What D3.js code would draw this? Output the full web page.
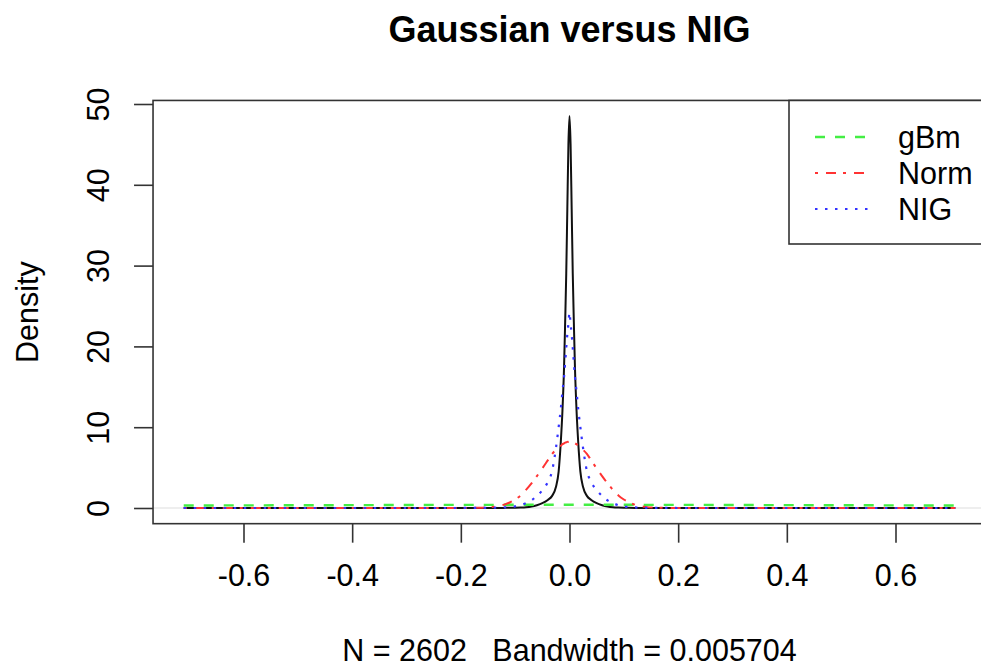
<!DOCTYPE html>
<html lang="en">
  <head>
    <meta charset="utf-8">
    <title>Gaussian versus NIG</title>
    <style>
    body { margin: 0; background: #fff; }
    text { font-family: "Liberation Sans", Arial, sans-serif; fill: #000; white-space: pre; }
    .title { font-size: 36px; font-weight: bold; }
    .lab { font-size: 30.5px; }
    .tick text { font-size: 30.5px; }
    </style>
  </head>
  <body>
    <svg width="981" height="668" id="svg"></svg>

    <script src="https://d3js.org/d3.v7.min.js"></script>
    <script>

    // density grid (x) and the four curves
    var gridX = [-0.71, -0.5, -0.3, -0.2, -0.16, -0.14, -0.12, -0.11, -0.10, -0.09, -0.08, -0.07, -0.06,
                 -0.05, -0.04, -0.032, -0.025, -0.02, -0.016, -0.013, -0.01, -0.008, -0.006, -0.004, -0.002,
                 0,
                 0.002, 0.004, 0.006, 0.008, 0.01, 0.013, 0.016, 0.02, 0.025, 0.032, 0.04, 0.05,
                 0.06, 0.07, 0.08, 0.09, 0.10, 0.11, 0.12, 0.14, 0.16, 0.2, 0.3, 0.5, 0.71];

    var kdeY  = [0, 0.001, 0.002, 0.005, 0.008, 0.01, 0.015, 0.02, 0.03, 0.05, 0.09, 0.18, 0.35,
                 0.6, 1.0, 1.5, 2.6, 4.5, 8.2, 12, 17.5, 23, 29, 37, 45,
                 48.5,
                 45, 37, 29, 23, 17.5, 12, 8.2, 4.5, 2.6, 1.5, 1.0, 0.6,
                 0.35, 0.18, 0.09, 0.05, 0.03, 0.02, 0.015, 0.01, 0.008, 0.005, 0.002, 0.001, 0];

    var nigY  = [0, 0, 0.001, 0.003, 0.01, 0.03, 0.07, 0.12, 0.2, 0.35, 0.6, 0.95, 1.5,
                 2.2, 3.2, 4.6, 7.4, 10, 12.3, 14.4, 16.3, 18, 19.8, 21.5, 22.8,
                 24.2,
                 22.8, 21.5, 19.8, 18, 16.3, 14.4, 12.3, 10, 7.4, 4.6, 3.2, 2.2,
                 1.5, 0.95, 0.6, 0.35, 0.2, 0.12, 0.07, 0.03, 0.01, 0.003, 0.001, 0, 0];

    var normY = [0, 0, 0, 0.003, 0.04, 0.14, 0.42, 0.68, 1.05, 1.55, 2.25, 3.05, 3.95,
                 4.9, 5.9, 6.7, 7.2, 7.5, 7.7, 7.9, 8.0, 8.1, 8.13, 8.18, 8.2,
                 8.25,
                 8.2, 8.18, 8.13, 8.1, 8.0, 7.9, 7.7, 7.5, 7.2, 6.7, 5.9, 4.9,
                 3.95, 3.05, 2.25, 1.55, 1.05, 0.68, 0.42, 0.14, 0.04, 0.003, 0, 0, 0];

    var gbmY  = [0.31, 0.34, 0.37, 0.39, 0.39, 0.39, 0.40, 0.40, 0.40, 0.40, 0.40, 0.40, 0.40,
                 0.40, 0.40, 0.40, 0.40, 0.40, 0.40, 0.40, 0.40, 0.40, 0.40, 0.40, 0.40,
                 0.40,
                 0.40, 0.40, 0.40, 0.40, 0.40, 0.40, 0.40, 0.40, 0.40, 0.40, 0.40, 0.40,
                 0.40, 0.40, 0.40, 0.40, 0.40, 0.40, 0.40, 0.39, 0.39, 0.39, 0.37, 0.34, 0.31];

    var xTicks = [-0.6, -0.4, -0.2, 0.0, 0.2, 0.4, 0.6];
    var yTicks = [0, 10, 20, 30, 40, 50];
    var legendNames = ["gBm", "Norm", "NIG"];

    var svg = d3.select("svg");

    var x = d3.scaleLinear().domain([-0.6, 0.6]).range([243.5, 895.5]);
    var y = d3.scaleLinear().domain([0, 50]).range([508, 104]);

    // R style box: 4% padding round the data range
    var boxL = x(-0.7665), boxR = x(0.7665), boxT = y(50.44), boxB = y(-1.94);

    // zero line
    svg.append("line")
        .attr("x1", boxL).attr("x2", boxR)
        .attr("y1", y(0)).attr("y2", y(0))
        .attr("stroke", "#ddd").attr("stroke-width", 1);

    var line = d3.line()
        .x(function(d) { return x(d[0]); })
        .y(function(d) { return y(d[1]); })
        .curve(d3.curveMonotoneX);

    function pts(ys) { return gridX.map(function(v, i) { return [v, ys[i]]; }); }

    var series = [
      {ys: kdeY,  color: "#111", dash: null, w: 2},
      {ys: gbmY,  color: "#44ee44", dash: "10,10", w: 2.4},
      {ys: normY, color: "#ff3333", dash: "3,8,10,7", w: 2},
      {ys: nigY,  color: "#3333ff", dash: "2.5,7.5", w: 2.2}
    ];

    series.forEach(function(s) {
      svg.append("path")
          .attr("d", line(pts(s.ys)))
          .attr("fill", "none")
          .attr("stroke", s.color)
          .attr("stroke-width", s.w)
          .attr("stroke-dasharray", s.dash);
    });

    // axes
    var gx = svg.append("g")
        .attr("class", "axis")
        .attr("transform", "translate(0," + boxB + ")")
        .call(d3.axisBottom(x).tickValues(xTicks).tickSize(19).tickPadding(22));
    gx.selectAll("text").text(function(d) { return d3.format(".1f")(d).replace("−", "-"); });

    var gy = svg.append("g")
        .attr("class", "axis")
        .attr("transform", "translate(" + boxL + ",0)")
        .call(d3.axisLeft(y).tickValues(yTicks).tickSize(19).tickPadding(0));
    gy.selectAll(".tick text")
        .attr("transform", "rotate(-90)")
        .attr("x", 0).attr("y", -55)
        .attr("dy", "0.35em")
        .attr("text-anchor", "middle");

    svg.selectAll(".axis path, .axis line").attr("stroke", "#333").attr("stroke-width", 1.6);
    svg.selectAll(".axis path").attr("stroke", "none");

    // plot box
    svg.append("rect")
        .attr("x", boxL).attr("y", boxT)
        .attr("width", boxR - boxL).attr("height", boxB - boxT)
        .attr("fill", "none").attr("stroke", "#333").attr("stroke-width", 1.6);

    // legend
    var lg = svg.append("g");
    lg.append("rect")
        .attr("x", 789).attr("y", boxT)
        .attr("width", 220).attr("height", 244 - boxT)
        .attr("fill", "#fff").attr("stroke", "#333").attr("stroke-width", 1.6);
    series.slice(1).forEach(function(s, i) {
      var yy = 137 + i * 36;
      lg.append("line")
          .attr("x1", 815).attr("x2", 870)
          .attr("y1", yy).attr("y2", yy)
          .attr("stroke", s.color).attr("stroke-width", s.w)
          .attr("stroke-dasharray", s.dash);
      lg.append("text")
          .attr("class", "lab")
          .attr("x", 898).attr("y", yy)
          .attr("dy", "0.35em")
          .text(legendNames[i]);
    });

    // titles
    svg.append("text").attr("class", "title")
        .attr("x", (boxL + boxR) / 2).attr("y", 42)
        .attr("text-anchor", "middle")
        .text("Gaussian versus NIG");

    svg.append("text").attr("class", "lab")
        .attr("x", (boxL + boxR) / 2).attr("y", 661)
        .attr("text-anchor", "middle")
        .text("N = 2602   Bandwidth = 0.005704");

    svg.append("text").attr("class", "lab")
        .attr("transform", "translate(38," + ((boxT + boxB) / 2) + ") rotate(-90)")
        .attr("text-anchor", "middle")
        .text("Density");

    </script>
  </body>
</html>
